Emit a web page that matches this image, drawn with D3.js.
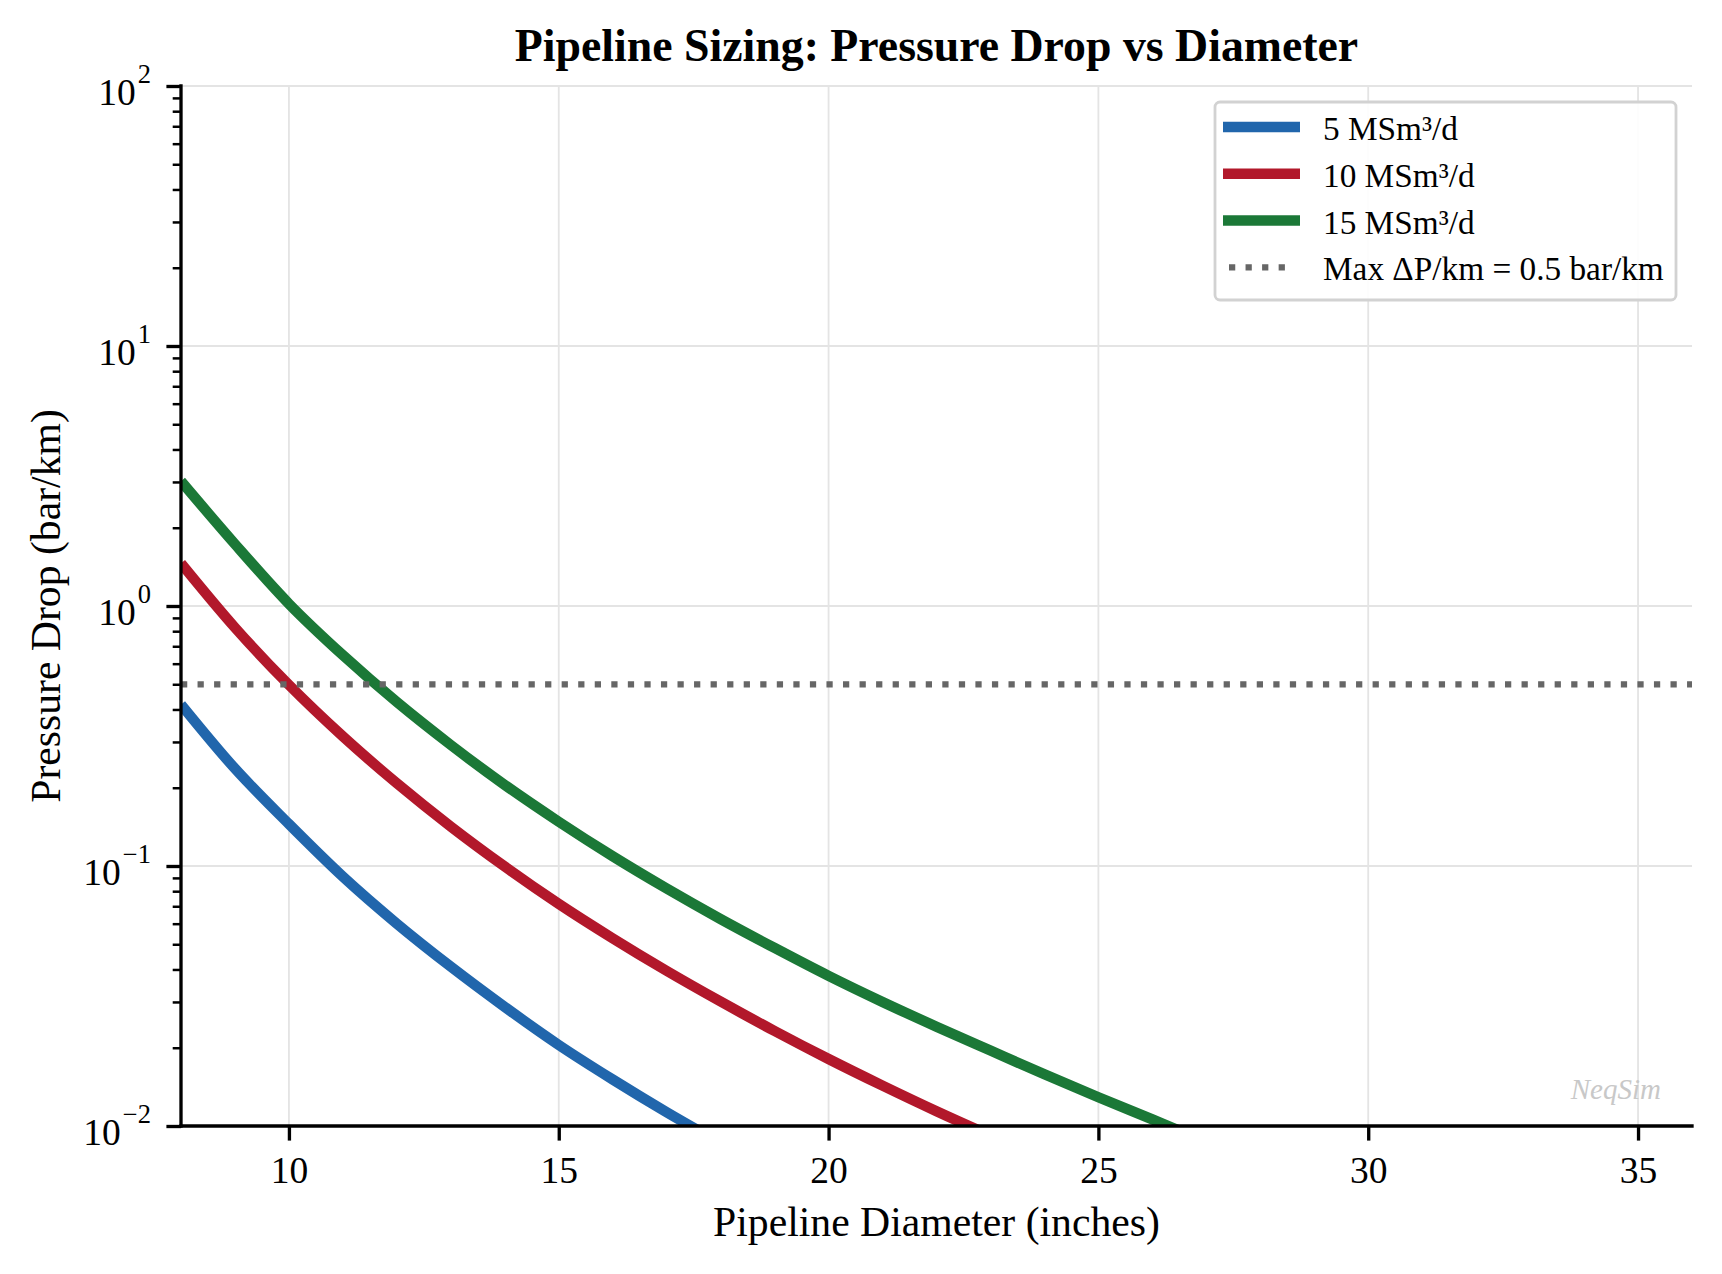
<!DOCTYPE html>
<html>
<head>
<meta charset="utf-8">
<script src="https://cdn.jsdelivr.net/npm/d3@7"></script>
<style>
  html, body { margin: 0; padding: 0; background: #fff; }
  svg { display: block; }
  text { font-family: "Liberation Serif", "Times New Roman", serif; fill: #000; }
</style>
</head>
<body>
<div id="chart"></div>
<script>
// ---------------- data ----------------
const diameters = [8, 9, 10, 11, 12, 13, 14, 15, 16, 17, 18, 19, 20, 21, 22, 23, 24, 25, 26, 27, 28];
const flow5  = [0.418, 0.237, 0.145, 0.091, 0.060, 0.041, 0.0287, 0.0205, 0.0151, 0.0113, 0.0086, 0.0066];
const flow10 = [1.46, 0.826, 0.497, 0.315, 0.208, 0.1418, 0.0995, 0.0715, 0.0527, 0.0395, 0.0301, 0.0232, 0.0181, 0.0143, 0.0114, 0.0092, 0.0075];
const flow15 = [3.02, 1.73, 1.02, 0.647, 0.427, 0.292, 0.205, 0.148, 0.109, 0.0819, 0.0625, 0.0484, 0.0378, 0.0300, 0.0241, 0.0195, 0.0158, 0.0129, 0.0106, 0.0087, 0.0072];
const seriesNames = ["5 MSm\u00b3/d", "10 MSm\u00b3/d", "15 MSm\u00b3/d"];
const seriesColors = ["#2166ac", "#b2182b", "#1b7837"];
const maxDP = 0.5;
const maxLabel = "Max \u0394P/km = 0.5 bar/km";
const xTicks = [10, 15, 20, 25, 30, 35];
const yDecades = [-2, -1, 0, 1, 2];
const titleText = "Pipeline Sizing: Pressure Drop vs Diameter";
const xLabel = "Pipeline Diameter (inches)";
const yLabel = "Pressure Drop (bar/km)";

// ---------------- layout ----------------
const W = 1722, H = 1274;
const L = 181, R = 1692, T = 86, B = 1126;

const svg = d3.select("#chart").append("svg").attr("width", W).attr("height", H);

const x = d3.scaleLinear().domain([8, 36]).range([L, R]);
const y = d3.scaleLog().domain([0.01, 100]).range([B, T]);

svg.append("defs").append("clipPath").attr("id", "clip")
  .append("rect").attr("x", L).attr("y", T).attr("width", R - L).attr("height", B - T);

// grid
const grid = svg.append("g");
grid.selectAll(".gx").data(xTicks).join("line")
  .attr("x1", d => x(d)).attr("x2", d => x(d)).attr("y1", T).attr("y2", B)
  .attr("stroke", "#e4e4e4").attr("stroke-width", 1.8);
grid.selectAll(".gy").data(yDecades).join("line")
  .attr("x1", L).attr("x2", R).attr("y1", d => y(Math.pow(10, d))).attr("y2", d => y(Math.pow(10, d)))
  .attr("stroke", "#e4e4e4").attr("stroke-width", 1.8);

// series
const allSeries = [flow5, flow10, flow15];
const line = d3.line()
  .x((d, i) => x(diameters[i]))
  .y(d => y(d))
  .curve(d3.curveMonotoneX);
const plot = svg.append("g").attr("clip-path", "url(#clip)");
allSeries.forEach((vals, k) => {
  plot.append("path").datum(vals)
    .attr("d", line)
    .attr("fill", "none")
    .attr("stroke", seriesColors[k])
    .attr("stroke-width", 10.4)
    .attr("stroke-linejoin", "round");
});
// max line
plot.append("line")
  .attr("x1", L).attr("x2", R).attr("y1", y(maxDP)).attr("y2", y(maxDP))
  .attr("stroke", "#666666").attr("stroke-width", 6.25)
  .attr("stroke-dasharray", "6.25,10.3");

// x axis ticks
const xAxis = d3.axisBottom(x).tickValues(xTicks).tickSize(14.6).tickSizeOuter(0).tickPadding(15.8)
  .tickFormat(d3.format("d"));
const gx = svg.append("g").attr("transform", `translate(0,${B})`).call(xAxis);
gx.select(".domain").remove();
gx.selectAll(".tick line").attr("stroke", "#000").attr("stroke-width", 3.33);
gx.selectAll(".tick text").attr("font-size", 37.5).attr("font-family", "Liberation Serif").attr("fill", "#000");

// y axis major ticks (log)
const yMajor = yDecades.map(e => Math.pow(10, e));
const yMinor = [];
[-2, -1, 0, 1].forEach(e => { [2,3,4,5,6,7,8,9].forEach(m => yMinor.push(m * Math.pow(10, e))); });
const yAxisMajor = d3.axisLeft(y).tickValues(yMajor).tickSize(14.6).tickSizeOuter(0).tickFormat("");
const gy = svg.append("g").attr("transform", `translate(${L},0)`).call(yAxisMajor);
gy.select(".domain").remove();
gy.selectAll(".tick line").attr("stroke", "#000").attr("stroke-width", 3.33);
const yAxisMinor = d3.axisLeft(y).tickValues(yMinor).tickSize(8.3).tickSizeOuter(0).tickFormat("");
const gym = svg.append("g").attr("transform", `translate(${L},0)`).call(yAxisMinor);
gym.select(".domain").remove();
gym.selectAll(".tick line").attr("stroke", "#000").attr("stroke-width", 2.5);

// y tick labels 10^n
yDecades.forEach(e => {
  const ty = y(Math.pow(10, e));
  const t = svg.append("text").attr("text-anchor", "end").attr("x", 151).attr("y", ty + 18.5)
    .attr("font-size", 37.5);
  t.append("tspan").text("10");
  t.append("tspan").attr("font-size", 26.5).attr("dy", -21.5).attr("dx", 2)
    .text(e < 0 ? "\u2212" + Math.abs(e) : String(e));
});

// spines
svg.append("line").attr("x1", L).attr("x2", L).attr("y1", T).attr("y2", B)
  .attr("stroke", "#000").attr("stroke-width", 3.33).attr("stroke-linecap", "square");
svg.append("line").attr("x1", L).attr("x2", R).attr("y1", B).attr("y2", B)
  .attr("stroke", "#000").attr("stroke-width", 3.33).attr("stroke-linecap", "square");

// title & labels
svg.append("text").attr("x", (L + R) / 2).attr("y", 61).attr("text-anchor", "middle")
  .attr("font-size", 45.8).attr("font-weight", "bold").text(titleText);
svg.append("text").attr("x", (L + R) / 2).attr("y", 1236).attr("text-anchor", "middle")
  .attr("font-size", 41.7).text(xLabel);
svg.append("text").attr("transform", `translate(60,${(T + B) / 2}) rotate(-90)`)
  .attr("text-anchor", "middle").attr("font-size", 41.7).text(yLabel);

// watermark
svg.append("text").attr("x", 1661).attr("y", 1099).attr("text-anchor", "end")
  .attr("font-size", 29).attr("font-style", "italic").style("fill", "#c8c8c8")
  .text("NeqSim");

// legend
const lg = svg.append("g");
lg.append("rect").attr("x", 1215).attr("y", 102).attr("width", 461).attr("height", 198)
  .attr("rx", 5).attr("ry", 5)
  .attr("fill", "#fff").attr("fill-opacity", 0.9)
  .attr("stroke", "#d2d2d2").attr("stroke-width", 2.8);
const rowY = [127, 173.8, 220.5, 267.3];
seriesNames.forEach((name, k) => {
  lg.append("line").attr("x1", 1223).attr("x2", 1300).attr("y1", rowY[k]).attr("y2", rowY[k])
    .attr("stroke", seriesColors[k]).attr("stroke-width", 10.4);
  lg.append("text").attr("x", 1323).attr("y", rowY[k] + 13).attr("font-size", 33.3).text(name);
});
lg.append("line").attr("x1", 1229).attr("x2", 1290).attr("y1", rowY[3]).attr("y2", rowY[3])
  .attr("stroke", "#666666").attr("stroke-width", 6.25).attr("stroke-dasharray", "6.25,10.3");
lg.append("text").attr("x", 1323).attr("y", rowY[3] + 13).attr("font-size", 33.3).text(maxLabel);
</script>
</body>
</html>
